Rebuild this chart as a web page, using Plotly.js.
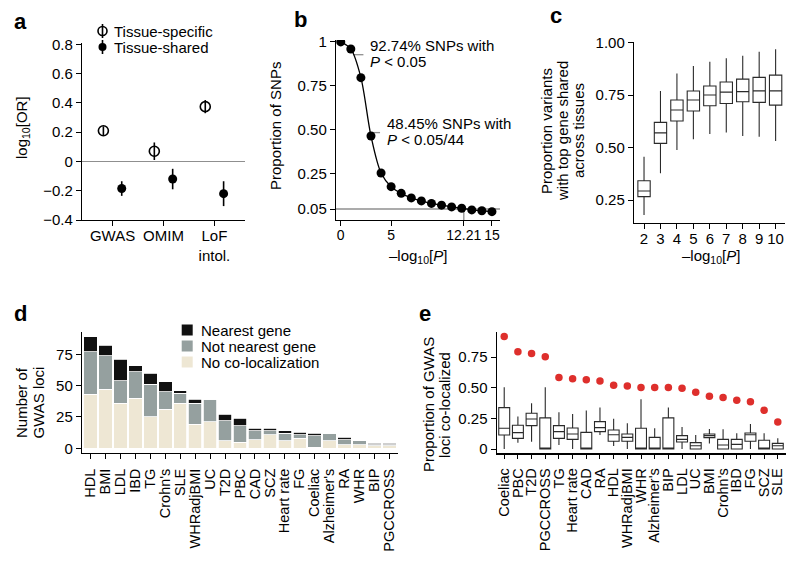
<!DOCTYPE html>
<html><head><meta charset="utf-8">
<script src="https://cdn.plot.ly/plotly-3.0.1.min.js"></script>
<style>body{margin:0;background:#fff}#chart{width:800px;height:565px}</style>
</head><body><div id="chart"></div>
<script>
// ---------- Panel a: log10[OR] ----------
const aCategories = ['GWAS', 'OMIM', 'LoF<br>intol.'];
const aSpecific = [0.21, 0.07, 0.375];
const aSpecificErr = [0.03, 0.06, 0.045];
const aShared = [-0.185, -0.12, -0.22];
const aSharedErr = [0.05, 0.07, 0.085];

// ---------- Panel b: proportion of SNPs vs -log10 P ----------
const bX = [0, 1, 2, 3, 4, 5, 6, 7, 8, 9, 10, 11, 12, 13, 14, 15];
const bY = [1.0, 0.96, 0.797, 0.465, 0.255, 0.177, 0.139, 0.113, 0.096, 0.082, 0.072, 0.062, 0.054, 0.045, 0.040, 0.035];
const bThreshold = 0.05;
const bCut = 12.21;
const bNote1 = 0.9274;
const bNote2 = 0.4845;
const bTickVals = [0, 5, bCut, 15];
const bTickText = ['0', '5', '12.21', '15'];

// ---------- Panel c: boxplots ----------
const cX = [2, 3, 4, 5, 6, 7, 8, 9, 10];
const cUpper = [0.457, 0.770, 0.854, 0.889, 0.910, 0.926, 0.938, 0.957, 0.969];
const cQ3 = [0.343, 0.621, 0.727, 0.770, 0.794, 0.813, 0.827, 0.835, 0.846];
const cMedian = [0.294, 0.571, 0.680, 0.727, 0.751, 0.765, 0.767, 0.771, 0.771];
const cQ1 = [0.267, 0.521, 0.627, 0.675, 0.700, 0.711, 0.719, 0.716, 0.703];
const cLower = [0.180, 0.378, 0.489, 0.540, 0.565, 0.573, 0.556, 0.552, 0.532];

// ---------- Panel d: stacked bars ----------
const dTraits = ['HDL', 'BMI', 'LDL', 'IBD', 'TG', "Crohn's", 'SLE', 'WHRadjBMI', 'UC', 'T2D', 'PBC', 'CAD', 'SCZ', 'Heart rate', 'FG', 'Coeliac', "Alzheimer's", 'RA', 'WHR', 'BIP', 'PGCCROSS'];
const dNoColoc = [43, 47, 36, 40, 25, 31, 36, 19, 21, 6, 5, 7, 11, 6, 8, 1, 6, 3, 3, 2, 2];
const dNotNearest = [34, 27, 18, 21, 26, 14, 8, 17, 18, 16, 13, 7, 3, 6, 3, 9, 6, 4, 3, 1, 1];
const dNearest = [12, 8, 17, 5, 9, 8, 2, 3, 0, 5, 6, 2, 2, 2, 2, 2, 0, 2, 0, 1, 1];

// ---------- Panel e: proportion co-localized ----------
const eTraits = ['Coeliac', 'PBC', 'T2D', 'PGCCROSS', 'TG', 'Heart rate', 'CAD', 'RA', 'HDL', 'WHRadjBMI', 'WHR', "Alzheimer's", 'BIP', 'LDL', 'UC', 'BMI', "Crohn's", 'IBD', 'FG', 'SCZ', 'SLE'];
const eObserved = [0.919, 0.794, 0.780, 0.753, 0.584, 0.573, 0.565, 0.556, 0.521, 0.515, 0.502, 0.502, 0.502, 0.496, 0.464, 0.431, 0.420, 0.398, 0.385, 0.316, 0.221];
const eUpper = [0.505, 0.265, 0.374, 0.505, 0.300, 0.286, 0.314, 0.338, 0.248, 0.210, 0.406, 0.169, 0.338, 0.180, 0.115, 0.164, 0.161, 0.128, 0.205, 0.128, 0.087];
const eQ3 = [0.338, 0.194, 0.292, 0.254, 0.191, 0.172, 0.136, 0.224, 0.155, 0.123, 0.169, 0.095, 0.254, 0.109, 0.052, 0.123, 0.079, 0.079, 0.131, 0.071, 0.046];
const eMedian = [0.169, 0.134, 0.245, 0, 0.142, 0.123, 0, 0.175, 0.117, 0.095, 0, 0, 0, 0.079, 0.027, 0.109, 0.033, 0.038, 0.117, 0, 0.027];
const eQ1 = [0.115, 0.087, 0.191, 0, 0.087, 0.079, 0, 0.142, 0.063, 0.063, 0, 0, 0, 0.057, 0, 0.093, 0, 0, 0.063, 0, 0];
const eLower = [0, 0.052, 0.060, 0, 0.033, 0, 0, 0.115, 0.025, 0, 0, 0, 0, 0, 0, 0.046, 0, 0, 0, 0, 0];

// ---------- styling ----------
const W = 800, H = 565;
const px = x => x / W, py = y => 1 - y / H;
const FONT = 'Liberation Sans, Arial, Helvetica, sans-serif';
const BLACK = '#111111', GREY = '#95a09f', BEIGE = '#eee7d4', RED = '#de2f2c', LINEGREY = '#8f8f8f';
const BOXLINE = '#2a2a2a';

function ax(extra) {
  return Object.assign({
    showline: true, linecolor: '#000', linewidth: 1.2,
    ticks: 'outside', ticklen: 5, tickwidth: 1, tickcolor: '#000',
    showgrid: false, zeroline: false, fixedrange: true,
    tickfont: {size: 15, color: '#000', family: FONT}
  }, extra);
}

const traces = [];
// a
traces.push({
  type: 'scatter', mode: 'markers', name: 'Tissue-specific',
  x: aCategories.map((_, i) => i + 1 - 0.18), y: aSpecific,
  error_y: {type: 'data', array: aSpecificErr, visible: true, color: '#000', thickness: 1.6, width: 0},
  marker: {symbol: 'circle-open', size: 10, color: '#000', line: {width: 1.6, color: '#000'}},
  xaxis: 'x', yaxis: 'y', showlegend: false, hoverinfo: 'skip'
});
traces.push({
  type: 'scatter', mode: 'markers', name: 'Tissue-shared',
  x: aCategories.map((_, i) => i + 1 + 0.18), y: aShared,
  error_y: {type: 'data', array: aSharedErr, visible: true, color: '#000', thickness: 1.6, width: 0},
  marker: {symbol: 'circle', size: 9, color: '#000'},
  xaxis: 'x', yaxis: 'y', showlegend: false, hoverinfo: 'skip'
});
// b
traces.push({
  type: 'scatter', mode: 'lines+markers', x: bX, y: bY,
  line: {color: '#000', width: 1.3, shape: 'spline', smoothing: 0.9},
  marker: {color: '#000', size: 9},
  xaxis: 'x2', yaxis: 'y2', showlegend: false, hoverinfo: 'skip'
});
// c
traces.push({
  type: 'box', x: cX, q1: cQ1, median: cMedian, q3: cQ3, lowerfence: cLower, upperfence: cUpper,
  width: 0.75, whiskerwidth: 0, line: {color: BOXLINE, width: 1.1}, fillcolor: 'rgba(255,255,255,0)',
  xaxis: 'x3', yaxis: 'y3', showlegend: false, hoverinfo: 'skip', boxpoints: false
});
// d
const dSeries = [
  ['No co-localization', dNoColoc, BEIGE],
  ['Not nearest gene', dNotNearest, GREY],
  ['Nearest gene', dNearest, BLACK]
];
dSeries.forEach(([name, vals, col]) => traces.push({
  type: 'bar', name, x: dTraits, y: vals, width: 0.9,
  marker: {color: col, line: {color: '#ffffff', width: 0.8}},
  xaxis: 'x4', yaxis: 'y4', showlegend: false, hoverinfo: 'skip'
}));
// e
traces.push({
  type: 'box', x: eTraits, q1: eQ1, median: eMedian, q3: eQ3, lowerfence: eLower, upperfence: eUpper,
  width: 0.8, whiskerwidth: 0, line: {color: BOXLINE, width: 1.1}, fillcolor: 'rgba(255,255,255,0)',
  xaxis: 'x5', yaxis: 'y5', showlegend: false, hoverinfo: 'skip', boxpoints: false
});
traces.push({
  type: 'scatter', mode: 'markers', x: eTraits, y: eObserved,
  marker: {color: RED, size: 7.5},
  xaxis: 'x5', yaxis: 'y5', showlegend: false, hoverinfo: 'skip'
});

const catFont = {size: 14.5, color: '#000', family: FONT};
const layout = {
  width: W, height: H, margin: {l: 0, r: 0, t: 0, b: 0},
  paper_bgcolor: '#fff', plot_bgcolor: 'rgba(0,0,0,0)',
  font: {family: FONT, size: 15, color: '#000'},
  showlegend: false, barmode: 'stack',
  // a
  xaxis: ax({domain: [px(82), px(245)], range: [0.4, 3.6], tickvals: [1, 2, 3], ticktext: aCategories, tickangle: 0, ticklabelstandoff: -3, anchor: 'y'}),
  yaxis: ax({domain: [py(220), py(43)], range: [-0.4, 0.81], tickvals: [-0.4, -0.2, 0, 0.2, 0.4, 0.6, 0.8],
    ticktext: ['\u22120.4', '\u22120.2', '0', '0.2', '0.4', '0.6', '0.8'], anchor: 'x',
    zeroline: true, zerolinecolor: LINEGREY, zerolinewidth: 1.3}),
  // b
  xaxis2: ax({domain: [px(336), px(500)], range: [-0.47, 15.8], tickvals: bTickVals, ticktext: bTickText, tickangle: 0, ticklabelstandoff: -3, anchor: 'y2', tickfont: {size: 14, color: '#000', family: FONT}}),
  yaxis2: ax({domain: [py(220), py(40)], range: [-0.0125, 1.011], tickvals: [0.05, 0.25, 0.5, 0.75, 1], ticktext: ['0.05', '0.25', '0.50', '0.75', '1'], anchor: 'x2'}),
  // c
  xaxis3: ax({domain: [px(634), px(785)], range: [1.39, 10.57], tickvals: cX, ticktext: cX.map(String), tickangle: 0, ticklabelstandoff: -3, anchor: 'y3'}),
  yaxis3: ax({domain: [py(222.7), py(41.7)], range: [0.143, 1.005], tickvals: [0.25, 0.5, 0.75, 1], ticktext: ['0.25', '0.50', '0.75', '1.00'], anchor: 'x3'}),
  // d
  xaxis4: ax({domain: [px(82), px(398)], range: [-0.58, 20.58], type: 'category', tickmode: 'array', tickvals: dTraits, ticktext: dTraits, tickangle: -90, ticklabelstandoff: 4, anchor: 'y4', tickfont: catFont}),
  yaxis4: ax({domain: [py(452.7), py(331.7)], range: [-3.5, 93], tickvals: [0, 25, 50, 75], anchor: 'x4'}),
  // e
  xaxis5: ax({domain: [px(496.7), px(786)], range: [-0.55, 20.6], type: 'category', tickmode: 'array', tickvals: eTraits, ticktext: eTraits, tickangle: -90, ticklabelstandoff: 4, anchor: 'y5', ticklen: 4, tickfont: catFont}),
  yaxis5: ax({domain: [py(453.3), py(331.7)], range: [-0.035, 0.958], tickvals: [0, 0.25, 0.5, 0.75], ticktext: ['0', '0.25', '0.50', '0.75'], anchor: 'x5'}),
  shapes: [
    // b reference lines
    {type: 'line', xref: 'x2', yref: 'y2', x0: -0.47, x1: 15.8, y0: bThreshold, y1: bThreshold, line: {color: LINEGREY, width: 1.3}, layer: 'below'},
    {type: 'line', xref: 'x2', yref: 'y2', x0: bCut, x1: bCut, y0: -0.0125, y1: bThreshold, line: {color: LINEGREY, width: 1.3}, layer: 'below'},
    {type: 'line', xref: 'x2', yref: 'y2', x0: 1.25, x1: 2.25, y0: bNote1, y1: bNote1, line: {color: LINEGREY, width: 1.3}, layer: 'below'},
    {type: 'line', xref: 'x2', yref: 'y2', x0: 2.83, x1: 3.9, y0: bNote2, y1: bNote2, line: {color: LINEGREY, width: 1.3}, layer: 'below'},
    // a legend symbols
    {type: 'line', xref: 'paper', yref: 'paper', x0: px(102.5), x1: px(102.5), y0: py(24), y1: py(38), line: {color: '#000', width: 1.6}},
    {type: 'circle', xref: 'paper', yref: 'paper', x0: px(98), x1: px(107), y0: py(26.5), y1: py(35.5), line: {color: '#000', width: 1.6}},
    {type: 'line', xref: 'paper', yref: 'paper', x0: px(102.5), x1: px(102.5), y0: py(40), y1: py(54), line: {color: '#000', width: 1.6}},
    {type: 'circle', xref: 'paper', yref: 'paper', x0: px(98.5), x1: px(106.5), y0: py(43), y1: py(51), fillcolor: '#000', line: {color: '#000', width: 0}},
    // d legend swatches
    {type: 'rect', xref: 'paper', yref: 'paper', x0: px(181.7), x1: px(192.7), y0: py(324.5), y1: py(335.5), fillcolor: BLACK, line: {width: 0}},
    {type: 'rect', xref: 'paper', yref: 'paper', x0: px(181.7), x1: px(192.7), y0: py(340.5), y1: py(351.5), fillcolor: GREY, line: {width: 0}},
    {type: 'rect', xref: 'paper', yref: 'paper', x0: px(181.7), x1: px(192.7), y0: py(356.5), y1: py(367.5), fillcolor: BEIGE, line: {width: 0}}
  ],
  annotations: []
};

function note(text, x, y, opts) {
  layout.annotations.push(Object.assign({
    text, xref: 'paper', yref: 'paper', x: px(x), y: py(y),
    xanchor: 'center', yanchor: 'middle', showarrow: false,
    font: {family: FONT, size: 15, color: '#000'}
  }, opts || {}));
}
const bold = {font: {family: FONT, size: 22, color: '#000', weight: 'bold'}};
note('<b>a</b>', 20, 22, bold);
note('<b>b</b>', 300.5, 19.5, bold);
note('<b>c</b>', 555.5, 15, bold);
note('<b>d</b>', 20.5, 313, bold);
note('<b>e</b>', 424.5, 313.5, bold);

// legends
note('Tissue-specific', 112, 31, {xanchor: 'left'});
note('Tissue-shared', 112, 47, {xanchor: 'left'});
note('Nearest gene', 198.5, 330, {xanchor: 'left'});
note('Not nearest gene', 198.5, 346, {xanchor: 'left'});
note('No co-localization', 198.5, 362, {xanchor: 'left'});

// b annotations
note('92.74% SNPs with', 367.5, 45.5, {xanchor: 'left'});
note('<i>P</i> < 0.05', 367.5, 62, {xanchor: 'left'});
note('48.45% SNPs with', 384.5, 123.5, {xanchor: 'left'});
note('<i>P</i> < 0.05/44', 384.5, 139.5, {xanchor: 'left'});

// axis titles
note('log<sub>10</sub>[OR]', 22, 128, {textangle: -90});
note('Proportion of SNPs', 276, 126, {textangle: -90});
note('\u2013log<sub>10</sub>[<i>P</i>]', 418, 256);
note('Proportion variants', 546, 131, {textangle: -90});
note('with top gene shared', 562, 131, {textangle: -90});
note('across tissues', 578, 131, {textangle: -90});
note('\u2013log<sub>10</sub>[<i>P</i>]', 711, 256);
note('Number of', 21, 403, {textangle: -90});
note('GWAS loci', 37.5, 403, {textangle: -90});
note('Proportion of GWAS', 428, 405, {textangle: -90});
note('loci co-localized', 444, 405, {textangle: -90});

Plotly.newPlot('chart', traces, layout, {staticPlot: true, displayModeBar: false});
</script>
</body></html>
